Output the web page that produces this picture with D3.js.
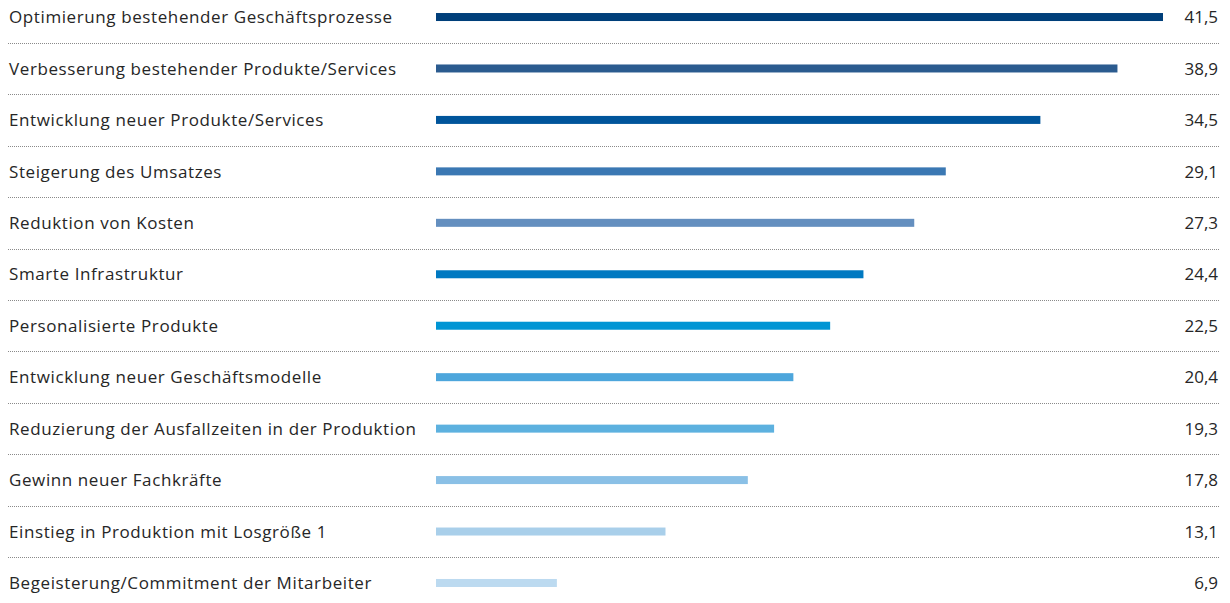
<!DOCTYPE html>
<html>
<head>
<meta charset="utf-8">
<script src="https://cdn.jsdelivr.net/npm/d3@7"></script>
<style>
  body { margin: 0; background: #fff; }
  svg text { font-family: "Open Sans", "Noto Sans", sans-serif; fill: #262626; }
</style>
</head>
<body>
<svg id="chart" width="1230" height="603"></svg>
<script>
// Daten
const categories = [
  "Optimierung bestehender Geschäftsprozesse",
  "Verbesserung bestehender Produkte/Services",
  "Entwicklung neuer Produkte/Services",
  "Steigerung des Umsatzes",
  "Reduktion von Kosten",
  "Smarte Infrastruktur",
  "Personalisierte Produkte",
  "Entwicklung neuer Geschäftsmodelle",
  "Reduzierung der Ausfallzeiten in der Produktion",
  "Gewinn neuer Fachkräfte",
  "Einstieg in Produktion mit Losgröße 1",
  "Begeisterung/Commitment der Mitarbeiter"
];
const values = [41.5, 38.9, 34.5, 29.1, 27.3, 24.4, 22.5, 20.4, 19.3, 17.8, 13.1, 6.9];
const colors = ["#003f7a", "#2b5b8f", "#00559b", "#3b78b3", "#648fbf", "#0079c1",
                "#0095d4", "#4da6dc", "#5db1df", "#8ac0e6", "#a9cfea", "#bcdaf0"];

const svg = d3.select("#chart");
const fmt = v => d3.format(".1f")(v).replace(".", ",");

const x = d3.scaleLinear().domain([0, 41.5]).range([436, 1163]);
const y = d3.scaleBand().domain(categories).range([-8.7, 608.7]).padding(0);
const barH = 8;

// Trennlinien (gepunktet)
svg.append("g")
  .selectAll("line")
  .data(categories.slice(0, -1))
  .join("line")
  .attr("x1", 8).attr("x2", 1220)
  .attr("y1", d => Math.round(y(d) + y.bandwidth()) + 0.5)
  .attr("y2", d => Math.round(y(d) + y.bandwidth()) + 0.5)
  .attr("stroke", "#8a8a8a")
  .attr("stroke-width", 1)
  .attr("stroke-dasharray", "1,1");

const row = svg.append("g")
  .selectAll("g")
  .data(categories)
  .join("g")
  .attr("transform", d => `translate(0,${y(d) + y.bandwidth() / 2})`);

row.append("rect")
  .attr("x", x(0))
  .attr("y", -barH / 2)
  .attr("height", barH)
  .attr("width", (d, i) => x(values[i]) - x(0))
  .attr("fill", (d, i) => colors[i]);

row.append("text")
  .attr("x", 9)
  .attr("dy", "0.36em")
  .attr("font-size", 17)
  .attr("letter-spacing", "0.6px")
  .text(d => d);

row.append("text")
  .attr("x", 1218)
  .attr("dy", "0.36em")
  .attr("text-anchor", "end")
  .attr("font-size", 17)
  .text((d, i) => fmt(values[i]));
</script>
</body>
</html>
